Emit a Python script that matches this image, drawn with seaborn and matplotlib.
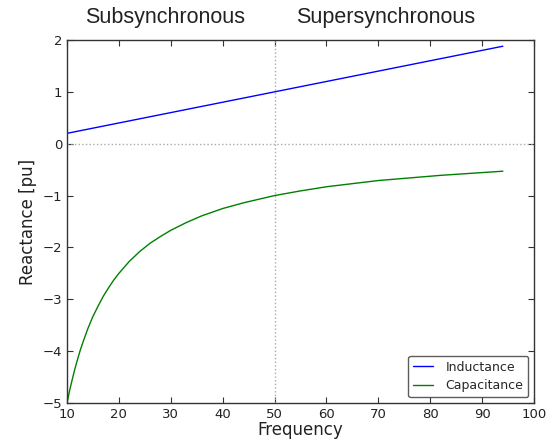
import pandas as pd
import matplotlib
matplotlib.use('Agg')
import matplotlib.pyplot as plt
import seaborn as sns

# ================================================
# Data
# ================================================
ind_freq = [10, 94]
ind_react = [0.20, 1.88]

cap_freq = [10, 10.5, 11, 11.5, 12, 12.5, 13, 14, 15, 16, 17, 18, 19, 20, 22,
            24, 26, 28, 30, 33, 36, 40, 44, 50, 55, 60, 65, 70, 76, 82, 88, 94]
cap_react = [-5.00, -4.76, -4.55, -4.35, -4.17, -4.00, -3.85, -3.57, -3.33,
             -3.13, -2.94, -2.78, -2.63, -2.50, -2.27, -2.08, -1.92, -1.79,
             -1.67, -1.52, -1.39, -1.25, -1.14, -1.00, -0.91, -0.83, -0.77,
             -0.71, -0.66, -0.61, -0.57, -0.53]

region_labels = ['Subsynchronous', 'Supersynchronous']
region_x = [28.9, 71.5]

df = pd.concat([
    pd.DataFrame({'Frequency': ind_freq, 'Reactance': ind_react, 'kind': 'Inductance'}),
    pd.DataFrame({'Frequency': cap_freq, 'Reactance': cap_react, 'kind': 'Capacitance'}),
])

# ================================================
# Style
# ================================================
sns.set_style('ticks')
plt.rcParams['font.family'] = ['DejaVu Sans']
plt.rcParams['xtick.direction'] = 'in'
plt.rcParams['ytick.direction'] = 'in'
plt.rcParams['xtick.top'] = True
plt.rcParams['ytick.right'] = True

fig = plt.figure(figsize=(5.56, 4.42), dpi=100)
ax = fig.add_axes([67 / 556, 1 - 403 / 442, 467 / 556, 363 / 442])

sns.lineplot(
    data=df,
    x='Frequency',
    y='Reactance',
    hue='kind',
    palette={'Inductance': 'blue', 'Capacitance': 'green'},
    linewidth=1.0,
    sort=False,
    ax=ax
)

ax.axhline(0, color='#aaaaaa', linestyle=':', linewidth=1)
ax.axvline(50, color='#aaaaaa', linestyle=':', linewidth=1)

ax.set_xlim(10, 100)
ax.set_ylim(-5, 2)
ax.set_xticks(range(10, 101, 10))
ax.set_yticks(range(-5, 3))
ax.tick_params(labelsize=9.5, length=4, width=0.8, color='#333333', labelcolor='#222222')
for s in ax.spines.values():
    s.set_color('#333333')
    s.set_linewidth(1)

ax.set_xlabel('Frequency', fontsize=12, labelpad=0, color='#222222')
ax.set_ylabel('Reactance [pu]', fontsize=12, labelpad=4, color='#222222')

for lbl, xx in zip(region_labels, region_x):
    ax.text(xx, 2.44, lbl, ha='center', va='center', fontsize=15.5,
            family=['Liberation Sans'], color='#222222')

leg = ax.legend(loc='lower right', fontsize=9, frameon=True, fancybox=True,
                edgecolor='#333333', handlelength=1.6, handletextpad=1.0,
                borderpad=0.4, labelspacing=0.45, borderaxespad=0.45)
leg.get_frame().set_linewidth(1)

plt.savefig('out.png', dpi=100)
